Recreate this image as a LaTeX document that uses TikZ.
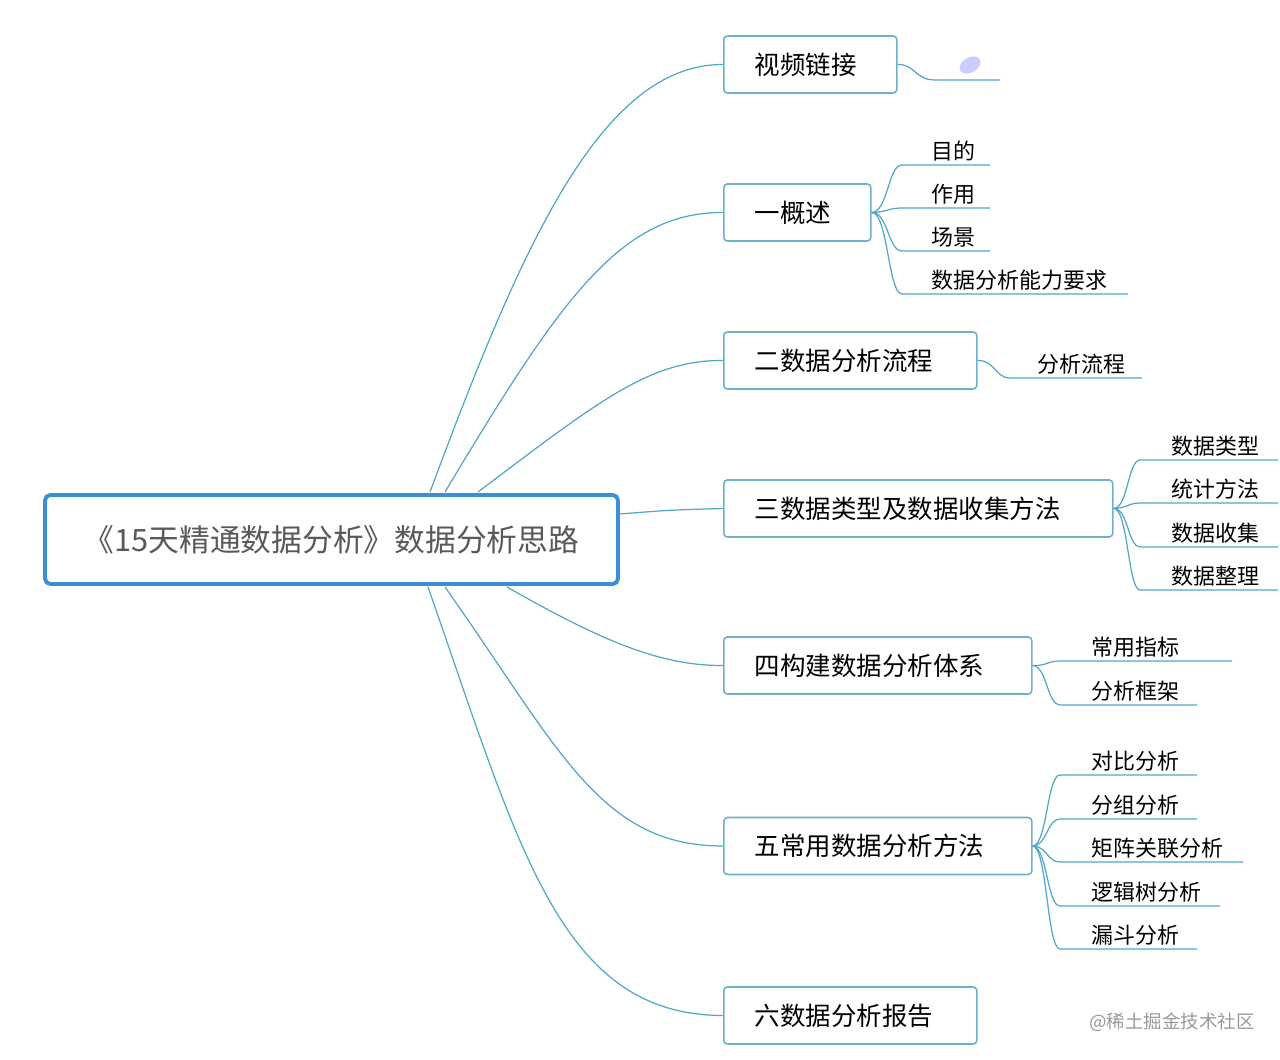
\documentclass[tikz,border=0pt]{standalone}
\usepackage{fontspec}
\usetikzlibrary{shapes.geometric}
\newfontfamily\cjk{Noto Sans CJK SC}
\definecolor{ln}{HTML}{4FA8C8}
\definecolor{bx}{HTML}{6FB0CC}
\definecolor{rootc}{HTML}{3A8FD6}
\begin{document}
\begin{tikzpicture}[x=0.02cm,y=-0.02cm,
  child/.style={draw=bx,line width=0.9pt,rounded corners=2pt,fill=white,anchor=west,minimum height=1.14cm,inner xsep=0.62cm,text width=#1*0.02cm-1.24cm,align=left,font=\cjk\fontsize{14.5}{16}\selectfont},
  leaf/.style={anchor=south west,inner sep=2pt,font=\cjk\fontsize{12.5}{14}\selectfont},
  con/.style={draw=ln,line width=0.7pt}]
\useasboundingbox (0,0) rectangle (1280,1060);
\node[draw=rootc,line width=2.2pt,rounded corners=3pt,minimum width=11.46cm,minimum height=1.78cm,fill=white,
  text=black!65,font=\cjk\fontsize{17.5}{19}\selectfont] (root) at (331.5,539.5) {《15天精通数据分析》数据分析思路};
\node[child=173] (c0) at (723,64.5) {视频链接};
\node[child=147] (c1) at (723,212.5) {一概述};
\node[child=253] (c2) at (723,360.5) {二数据分析流程};
\node[child=389] (c3) at (723,508.5) {三数据类型及数据收集方法};
\node[child=308] (c4) at (723,665.5) {四构建数据分析体系};
\node[child=308] (c5) at (723,846) {五常用数据分析方法};
\node[child=253] (c6) at (723,1015.5) {六数据分析报告};
\coordinate (r0) at (430,492); \coordinate (r1) at (445,492); \coordinate (r2) at (478,492);
\coordinate (r3) at (620,514); \coordinate (r4) at (507,587); \coordinate (r5) at (445,587); \coordinate (r6) at (428,587);
\draw[con] (r0) .. controls (520,250) and (600,64) .. (c0.west);
\draw[con] (r1) .. controls (560,300) and (620,212) .. (c1.west);
\draw[con] (r2) .. controls (600,400) and (650,360) .. (c2.west);
\draw[con] (r3) .. controls (670,510) .. (c3.west);
\draw[con] (r4) .. controls (600,640) and (660,666) .. (c4.west);
\draw[con] (r5) .. controls (560,750) and (600,846) .. (c5.west);
\draw[con] (r6) .. controls (520,850) and (560,1015) .. (c6.west);
% video
\coordinate (v1) at (935,80); \coordinate (v2) at (1000,80);
\draw[con] (c0.east) .. controls (915,64) and (915,80) .. (v1) -- (v2);
\node[ellipse,fill=blue!20,minimum width=0.45cm,minimum height=0.3cm,rotate=30,inner sep=0] (icon) at (970,65) {};
% 一
\foreach \i/\y/\e/\t in {a/165/990/目的,b/208/990/作用,c/251/990/场景,d/294/1128/数据分析能力要求}{
  \coordinate (s1\i) at (902,\y); \coordinate (e1\i) at (\e,\y);
  \draw[con] (c1.east) .. controls (888,212) and (888,\y) .. (s1\i) -- (e1\i);
  \node[leaf] (l1\i) at (928,\y) {\t};}
% 二
\coordinate (s2) at (1010,378); \coordinate (e2) at (1142,378);
\draw[con] (c2.east) .. controls (995,360) and (995,378) .. (s2) -- (e2);
\node[leaf] (l2) at (1034,378) {分析流程};
% 三
\foreach \i/\y/\t in {a/460/数据类型,b/503/统计方法,c/547/数据收集,d/590/数据整理}{
  \coordinate (s3\i) at (1140,\y); \coordinate (e3\i) at (1278,\y);
  \draw[con] (c3.east) .. controls (1128,508) and (1128,\y) .. (s3\i) -- (e3\i);
  \node[leaf] (l3\i) at (1168,\y) {\t};}
% 四
\foreach \i/\y/\e/\t in {a/661/1232/常用指标,b/705/1197/分析框架}{
  \coordinate (s4\i) at (1060,\y); \coordinate (e4\i) at (\e,\y);
  \draw[con] (c4.east) .. controls (1047,666) and (1047,\y) .. (s4\i) -- (e4\i);
  \node[leaf] (l4\i) at (1088,\y) {\t};}
% 五
\foreach \i/\y/\e/\t in {a/775/1197/对比分析,b/819/1197/分组分析,c/862/1243/矩阵关联分析,d/906/1220/逻辑树分析,e/949/1197/漏斗分析}{
  \coordinate (s5\i) at (1060,\y); \coordinate (e5\i) at (\e,\y);
  \draw[con] (c5.east) .. controls (1047,846) and (1047,\y) .. (s5\i) -- (e5\i);
  \node[leaf] (l5\i) at (1088,\y) {\t};}
\node[text=black!40,font=\cjk\fontsize{10.5}{12}\selectfont] (wm) at (1172,1022) {@稀土掘金技术社区};
\end{tikzpicture}
\end{document}
